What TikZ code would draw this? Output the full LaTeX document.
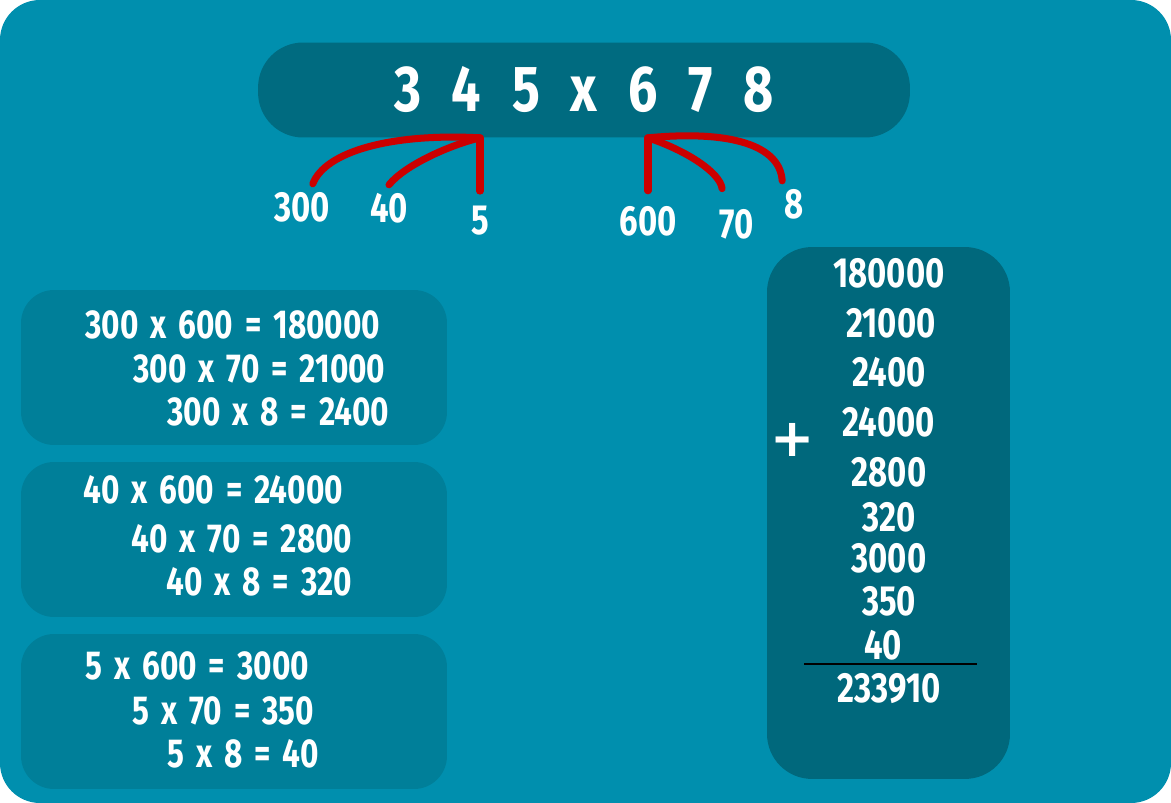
\documentclass[tikz,border=0pt]{standalone}
\usepackage{fontspec}
\usepackage{xcolor}
\setmainfont{Fira Sans}[FakeStretch=0.78]
\newfontfamily\titlefont{Fira Sans}[FakeStretch=0.8, WordSpace=2.5]
\newfontfamily\rowfont{Fira Sans}[FakeStretch=0.78, WordSpace=1.6]
\newfontfamily\plusfont{DejaVu Sans}
\usetikzlibrary{positioning}

\definecolor{sea}{RGB}{0,143,174}
\definecolor{deep}{RGB}{0,107,128}
\definecolor{mid}{RGB}{0,127,153}
\definecolor{col}{RGB}{0,104,124}
\definecolor{pen}{RGB}{204,0,0}

\tikzset{
    titlebox/.style={fill=deep, rounded corners=0.9cm, minimum width=13.04cm, minimum height=1.9cm, text=white, font=\titlefont\bfseries\fontsize{37}{37}\selectfont},
    panel/.style={fill=mid, rounded corners=0.66cm, minimum width=8.52cm, minimum height=3.1cm},
    part/.style={text=white, inner sep=4.5pt, font=\bfseries\fontsize{24}{24}\selectfont},
    row/.style={text=white, inner sep=0pt, anchor=west, font=\rowfont\bfseries\fontsize{23}{23}\selectfont},
    sum/.style={text=white, inner sep=0pt, font=\bfseries\fontsize{24}{24}\selectfont},
    pen/.style={draw=pen, line width=4pt, line cap=round, line join=round}
}

\begin{document}
\begin{tikzpicture}[x=0.02cm, y=-0.02cm]
    \useasboundingbox (0,0) rectangle (1171,803);
    \fill [sea, rounded corners=0.8cm] (0,0) rectangle (1171,803);

    \node [titlebox] (t) at (584,90) {3 4 5 x 6 7 8};

    \node [part] (h300) at (302,207) {300};
    \node [part] (h40) at (389,208) {40};
    \node [part] (h5) at (480,221) {5};
    \node [part] (h600) at (648,221) {600};
    \node [part] (h70) at (737,224) {70};
    \node [part] (h8) at (794,204) {8};

    \coordinate (jl) at (h5.north |- t.south);
    \coordinate (jr) at (h600.north |- t.south);
    \draw [pen] (h300.65) .. controls (325,152) and (390,133) .. (jl);
    \draw [pen] (h40.north) .. controls (405,165) and (450,145) .. (jl);
    \draw [pen, shorten <=4pt] (h5.north) -- (jl);
    \draw [pen, shorten <=4pt] (h600.north) -- (jr);
    \draw [pen, shorten >=7pt] (jr) .. controls (685,150) and (720,172) .. (h70.120);
    \draw [pen] (jr) .. controls (730,130) and (780,145) .. (h8.117);

    \node [panel] (b1) at (234,367.5) {};
    \node [panel] (b2) at (234,539.5) {};
    \node [panel] (b3) at (234,711.5) {};

    \node [row] (r1a) at (85,325) {300 x 600 = 180000};
    \node [row] (r1b) at (133,369) {300 x 70 = 21000};
    \node [row] (r1c) at (167,412) {300 x 8 = 2400};
    \node [row] (r2a) at (83,490) {40 x 600 = 24000};
    \node [row] (r2b) at (131,539) {40 x 70 = 2800};
    \node [row] (r2c) at (166,582) {40 x 8 = 320};
    \node [row] (r3a) at (85,666) {5 x 600 = 3000};
    \node [row] (r3b) at (132,711) {5 x 70 = 350};
    \node [row] (r3c) at (167,754) {5 x 8 = 40};

    \node [panel, fill=col, rounded corners=0.9cm, minimum width=4.86cm, minimum height=10.64cm] (sums) at (888.5,513) {};
    \node [sum] (s1) at (889,273) {180000};
    \node [sum] (s2) at (891,323) {21000};
    \node [sum] (s3) at (889,372) {2400};
    \node [sum] (s4) at (889,422) {24000};
    \node [sum] (s5) at (889,472) {2800};
    \node [sum] (s6) at (889,517) {320};
    \node [sum] (s7) at (889,558) {3000};
    \node [sum] (s8) at (889,601) {350};
    \node [sum] (s9) at (883,645) {40};
    \draw [line width=1.7pt] (804,664) -- (977,664);
    \node [sum] (total) at (889,689) {233910};
    \node [text=white, inner sep=0pt, font=\plusfont\bfseries\fontsize{30}{30}\selectfont] (plus) at (793,440) {+};
\end{tikzpicture}
\end{document}
